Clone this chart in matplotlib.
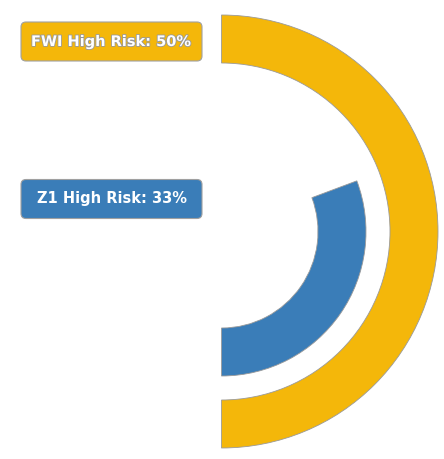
import matplotlib
matplotlib.use("Agg")
import matplotlib.pyplot as plt
import matplotlib.patheffects as pe
from matplotlib.patches import Wedge, FancyBboxPatch

# --- Data ---
series = ["FWI", "Z1"]
arc_pct = [50.0, 30.7]          # share of a full circle swept by each arc
label_pct = [50, 33]            # percentages printed in the labels
colors = ["#F4B70A", "#3A7DB8"]

# --- Layout (pixel units) ---
W, H = 444, 459
cx, cy = 221.5, H - 231.5
outer_r = [216.5, 144.5]
band = 48
label_y = [H - 41.5, H - 199]
box_x0, box_w, box_h = 21, 181, 39

fig = plt.figure(figsize=(W / 100, H / 100), dpi=100)
ax = fig.add_axes([0, 0, 1, 1])
ax.set_xlim(0, W)
ax.set_ylim(0, H)
ax.set_aspect("equal")
ax.axis("off")

for name, pct, lab, col, r, ly in zip(series, arc_pct, label_pct, colors, outer_r, label_y):
    # arcs start at 6 o'clock and sweep counter-clockwise
    ax.add_patch(Wedge((cx, cy), r, -90, -90 + pct * 3.6, width=band,
                       facecolor=col, edgecolor="#9a9a9a", linewidth=0.6))
    ax.add_patch(FancyBboxPatch((box_x0, ly - box_h / 2), box_w, box_h,
                                boxstyle="round,pad=0,rounding_size=5",
                                facecolor=col, edgecolor="#a0a0a0", linewidth=0.8))
    txt = ax.text(box_x0 + box_w / 2, ly, f"{name} High Risk: {lab}%",
                  ha="center", va="center", color="white",
                  fontsize=10.5, fontweight="bold", family="DejaVu Sans")
    if name == "FWI":
        txt.set_path_effects([pe.withStroke(linewidth=1.2, foreground="#999999")])

fig.savefig("out.png", dpi=100)
